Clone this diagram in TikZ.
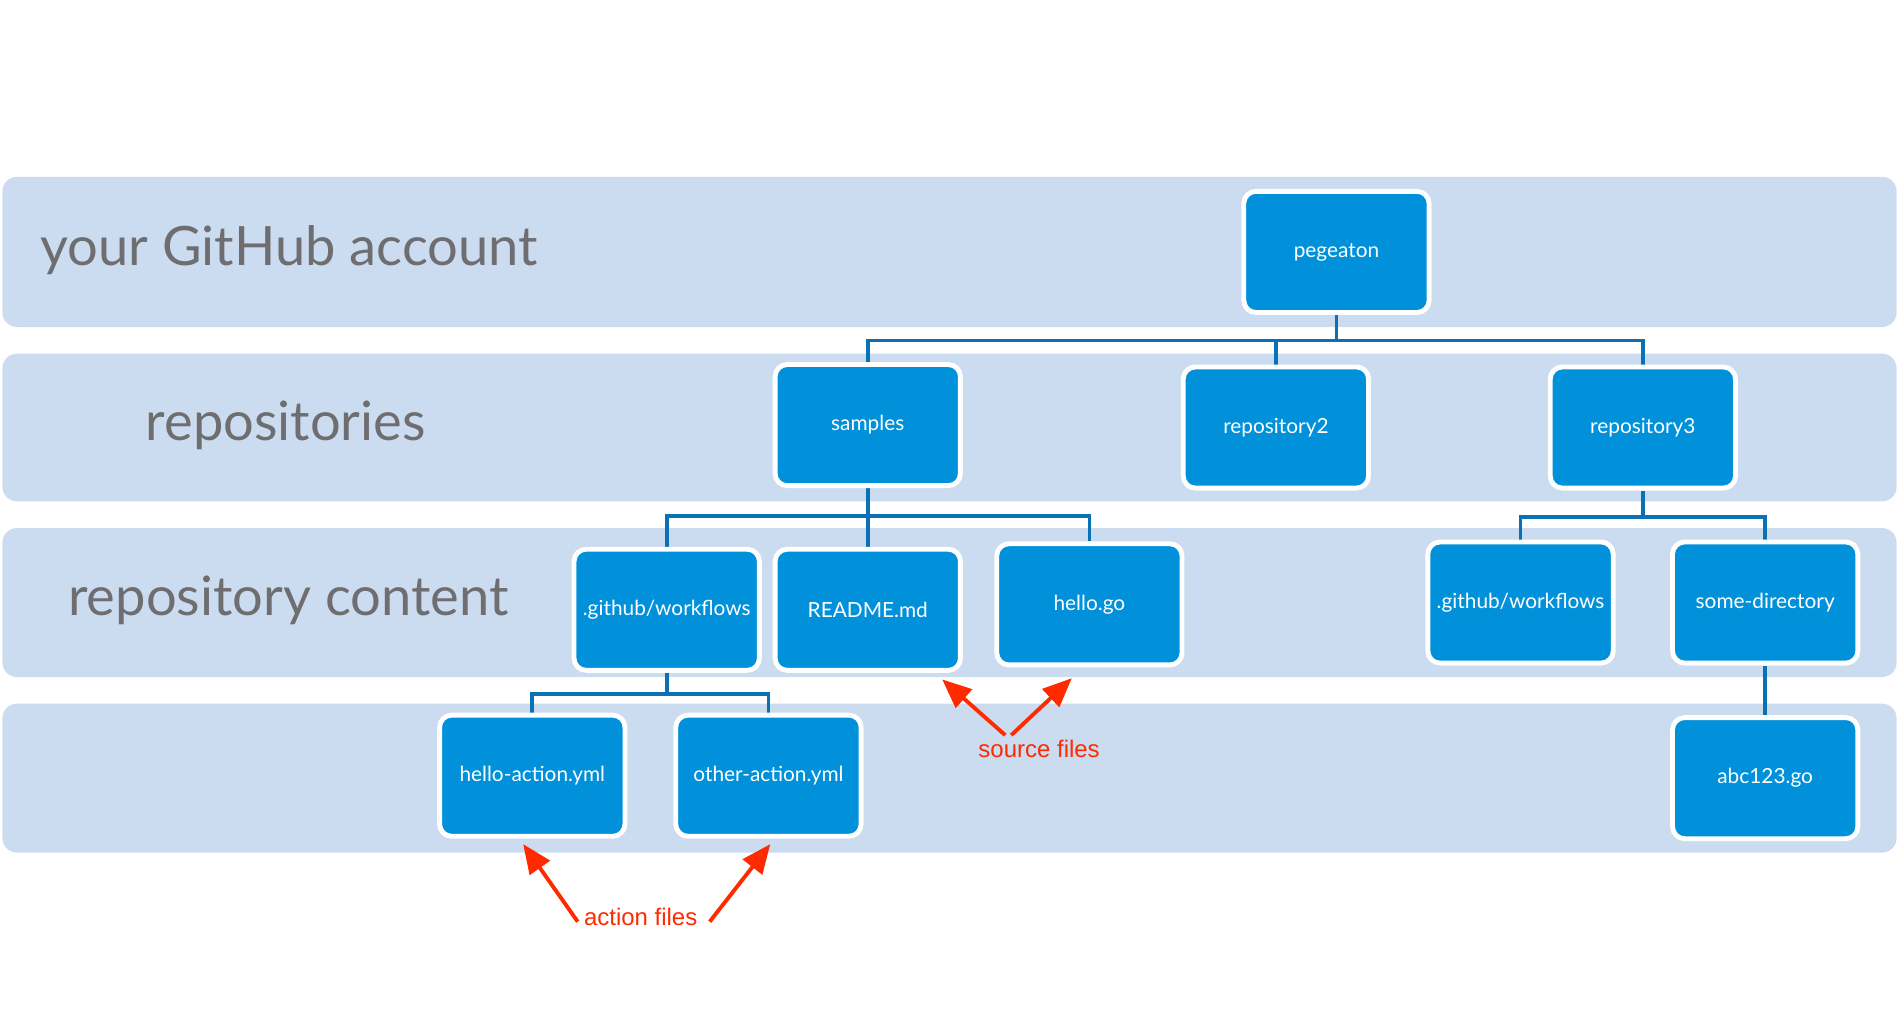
\documentclass[tikz,border=0pt]{standalone}
\usepackage{fontspec}
\setmainfont{Lato}
\newfontfamily\arialfont{Liberation Sans}
\usetikzlibrary{arrows.meta}
\definecolor{bandc}{HTML}{CCDCF0}
\definecolor{boxc}{HTML}{0091DA}
\definecolor{linec}{HTML}{0A71B4}
\definecolor{redc}{HTML}{FF2A00}
\definecolor{grayc}{HTML}{6E6E71}
\pgfdeclarelayer{bands}
\pgfdeclarelayer{lines}
\pgfsetlayers{bands,lines,main}
\tikzset{
  band/.style={fill=bandc, rounded corners=6pt},
  fbox/.style={draw=white, line width=2pt, fill=boxc, rounded corners=5pt,
    minimum width=76.5pt, minimum height=50pt, inner sep=0pt,
    text=white, font=\fontsize{8.6}{10}\selectfont},
  conn/.style={draw=linec, line width=1.5pt},
  rarrow/.style={draw=redc, line width=1.6pt, -{Triangle[length=12pt,width=10pt]}, redc},
  rlabel/.style={text=redc, font=\arialfont\fontsize{9.9}{12}\selectfont, inner sep=0pt},
  glabel/.style={text=grayc, font=\fontsize{22.4}{26}\selectfont, inner sep=0pt, anchor=base west}
}
\begin{document}
\begin{tikzpicture}[x=0.5pt,y=-0.5pt]
\useasboundingbox (0,0) rectangle (1568,851);
\begin{pgfonlayer}{bands}
\fill[band] (2,146) rectangle (1566,270);
\fill[band] (2,292) rectangle (1566,414);
\fill[band] (2,436) rectangle (1566,559);
\fill[band] (2,581) rectangle (1566,704);
\end{pgfonlayer}

\node[glabel] (lab1) at (33,219.6) {your GitHub account};
\node[glabel] (lab2) at (120,363.4) {repositories};
\node[glabel] (lab3) at (56,508.5) {repository content};

\node[fbox] (peg) at (1103.5,208) {pegeaton};
\node[fbox] (samples) at (716.5,351) {samples};
\node[fbox] (repo2) at (1053.5,353) {repository2};
\node[fbox] (repo3) at (1356.5,353) {repository3};
\node[fbox] (gh1) at (550.5,503.5) {.github/workflows};
\node[fbox] (readme) at (716.5,503.5) {README.md};
\node[fbox] (hello) at (899.5,499) {hello.go};
\node[fbox] (gh2) at (1255.5,497.5) {.github/workflows};
\node[fbox] (somedir) at (1457.5,497.5) {some-directory};
\node[fbox] (ha) at (439.5,640.5) {hello-action.yml};
\node[fbox] (oa) at (634.5,640.5) {other-action.yml};
\node[fbox] (abc) at (1457.5,642.5) {abc123.go};

\coordinate (j1) at (1103.5,281);
\coordinate (j2) at (716.5,426);
\coordinate (j3) at (1356.5,427);
\coordinate (j4) at (550.5,573);

\begin{pgfonlayer}{lines}
\draw[conn] (peg.south) -- (j1);
\draw[conn] (samples.north) |- (j1) -| (repo3.north);
\draw[conn] (repo2.north) -- (repo2.north |- j1);
\draw[conn] (samples.south) -- (j2);
\draw[conn] (gh1.north) |- (j2) -| (hello.north);
\draw[conn] (readme.north) -- (j2);
\draw[conn] (repo3.south) -- (j3);
\draw[conn] (gh2.north) |- (j3) -| (somedir.north);
\draw[conn] (gh1.south) -- (j4);
\draw[conn] (ha.north) |- (j4) -| (oa.north);
\draw[conn] (somedir.south) -- (abc.north);
\end{pgfonlayer}

\node[rlabel] (src) at (858,618) {source files};
\node[rlabel] (act) at (529,757) {action files};
\coordinate (s1t) at (830,607);
\coordinate (s1h) at (778,561);
\coordinate (s2t) at (835,607);
\coordinate (s2h) at (885,560);
\coordinate (a1t) at (477,761);
\coordinate (a1h) at (432,697);
\coordinate (a2t) at (586,761);
\coordinate (a2h) at (636,697);
\draw[rarrow] (s1t) -- (s1h);
\draw[rarrow] (s2t) -- (s2h);
\draw[rarrow] (a1t) -- (a1h);
\draw[rarrow] (a2t) -- (a2h);
\end{tikzpicture}
\end{document}
